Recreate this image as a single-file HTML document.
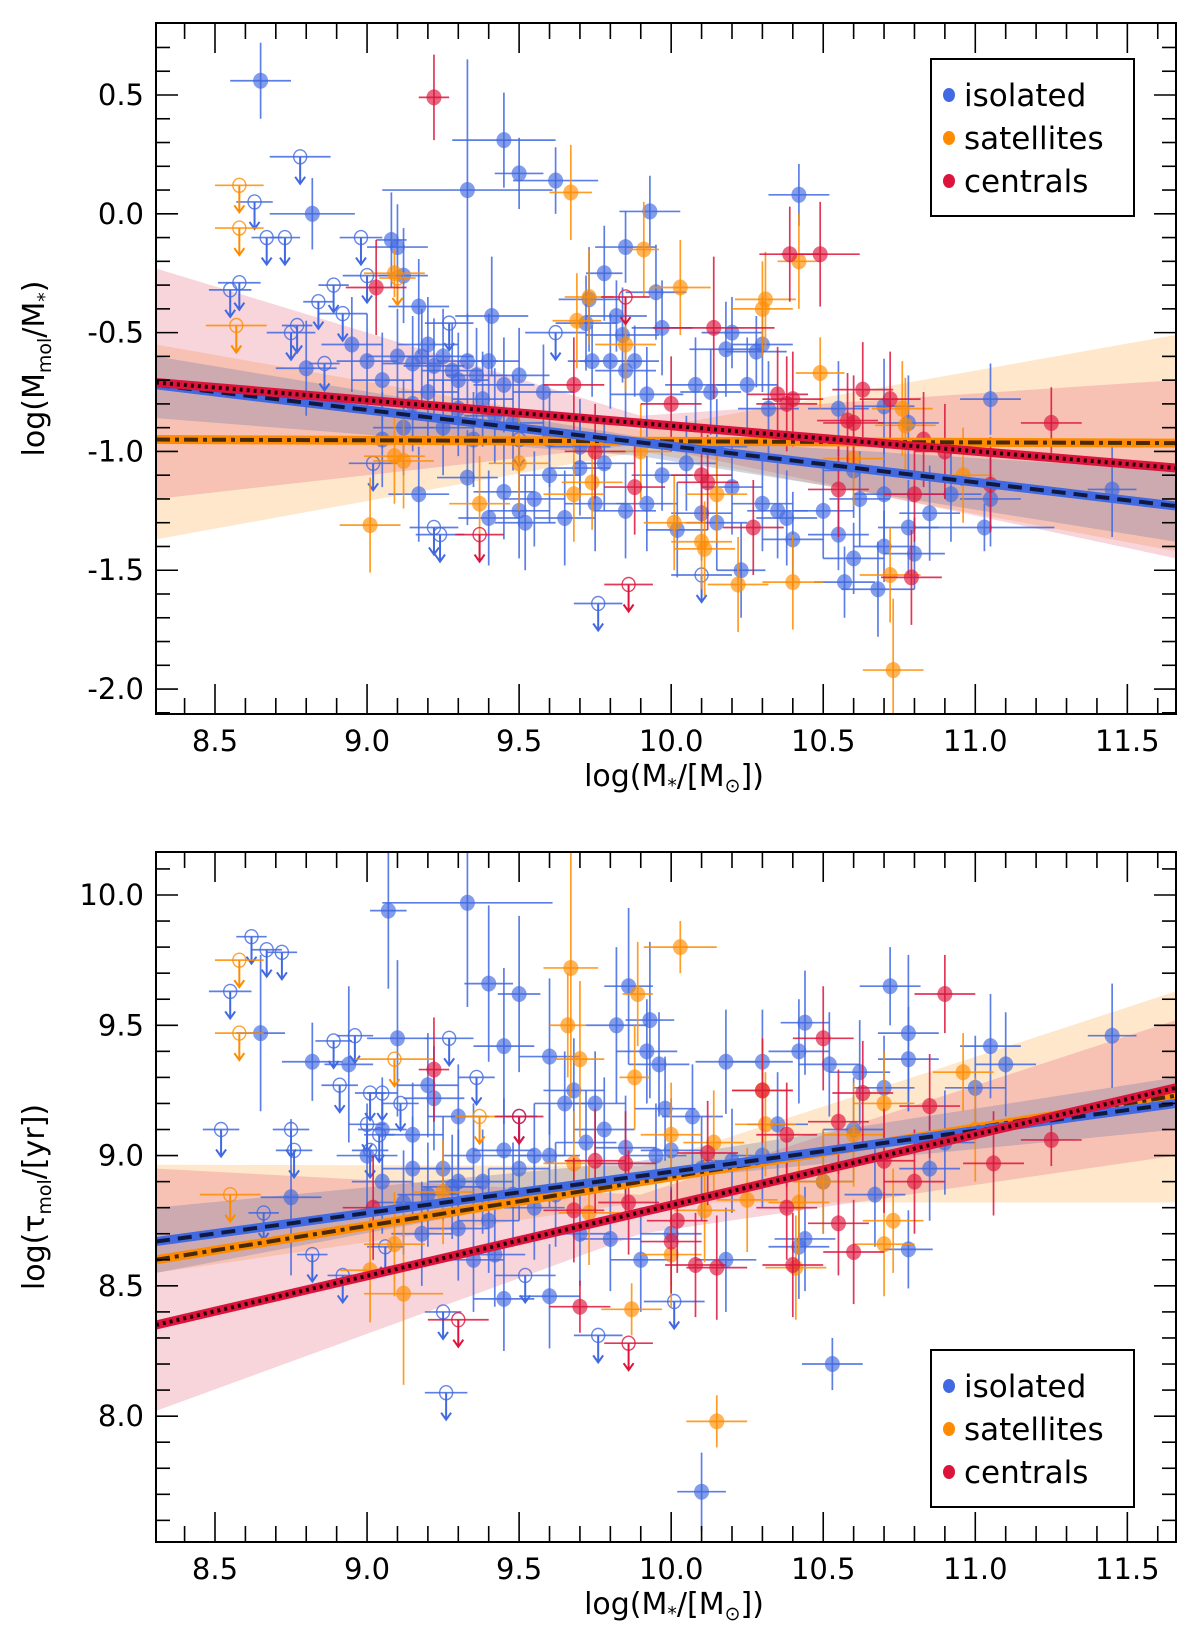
<!DOCTYPE html>
<html>
<head>
<meta charset="utf-8">
<style>
  html, body { margin: 0; padding: 0; background: #fff; }
  svg { display: block; font-family: "DejaVu Sans", "Liberation Sans", sans-serif; }
</style>
</head>
<body>
<svg id="fig" width="1200" height="1631" viewBox="0 0 1200 1631" xmlns="http://www.w3.org/2000/svg">
  <g id="top-panel"></g>
  <g id="bottom-panel"></g>
</svg>
<script>
// ---------- shared ----------
const xTicks = [8.5, 9.0, 9.5, 10.0, 10.5, 11.0, 11.5];
const xTickLabels = ["8.5", "9.0", "9.5", "10.0", "10.5", "11.0", "11.5"];
const xDomain = [8.306, 11.66];
const fitX = [8.306, 11.66];
const bandX = [8.306, 9.9, 11.66];

// ---------- top panel data: [x, y, xerr, yerr] ----------
const topYDomain = [-2.105, 0.803];
const topYTicks = [0.5, 0.0, -0.5, -1.0, -1.5, -2.0];
const topYTickLabels = ["0.5", "0.0", "-0.5", "-1.0", "-1.5", "-2.0"];

const topIso = [[8.65,0.56,0.1,0.16],[8.82,0.0,0.14,0.15],[9.33,0.1,0.28,0.55],[9.45,0.31,0.17,0.2],[9.5,0.17,0.08,0.15],[9.62,0.14,0.14,0.14],
[9.93,0.01,0.1,0.15],[10.42,0.08,0.1,0.13],[9.08,-0.11,0.05,0.2],[9.1,-0.14,0.1,0.18],[9.12,-0.26,0.08,0.2],[9.17,-0.39,0.1,0.2],[9.41,-0.43,0.12,0.25],
[9.78,-0.25,0.06,0.2],[9.85,-0.14,0.1,0.15],[9.95,-0.33,0.1,0.2],[9.73,-0.36,0.1,0.22],[9.72,-0.46,0.1,0.2],[9.82,-0.43,0.1,0.15],[9.84,-0.51,0.12,0.2],
[9.97,-0.48,0.1,0.2],[10.18,-0.57,0.12,0.2],[10.28,-0.58,0.1,0.15],[10.2,-0.5,0.1,0.15],[10.3,-0.55,0.1,0.2],[9.74,-0.62,0.08,0.15],[9.8,-0.62,0.1,0.2],
[9.88,-0.62,0.08,0.15],[9.85,-0.66,0.1,0.2],[10.08,-0.72,0.1,0.2],[10.25,-0.72,0.1,0.2],[10.13,-0.75,0.1,0.18],[9.92,-0.76,0.12,0.2],[10.32,-0.82,0.1,0.2],
[10.55,-0.82,0.1,0.2],[10.7,-0.81,0.1,0.2],[10.78,-0.88,0.1,0.2],[11.05,-0.78,0.1,0.15],[11.45,-1.16,0.08,0.2],[11.05,-1.2,0.1,0.2],[10.92,-1.18,0.1,0.2],
[10.85,-1.26,0.1,0.2],[11.03,-1.32,0.23,0.1],[10.78,-1.32,0.1,0.2],[10.8,-1.43,0.1,0.15],[10.7,-1.4,0.1,0.15],[10.68,-1.58,0.12,0.2],[10.6,-1.45,0.1,0.15],
[10.57,-1.55,0.1,0.15],[10.55,-1.35,0.1,0.15],[10.38,-1.28,0.1,0.2],[10.4,-1.37,0.1,0.2],[10.23,-1.5,0.08,0.2],[10.35,-1.25,0.1,0.2],[10.3,-1.22,0.1,0.2],
[10.15,-1.3,0.1,0.2],[10.1,-1.26,0.1,0.2],[10.02,-1.33,0.1,0.2],[9.92,-1.22,0.1,0.2],[9.97,-1.1,0.1,0.15],[9.85,-1.25,0.1,0.2],[9.75,-1.22,0.1,0.2],
[9.65,-1.28,0.1,0.2],[9.55,-1.2,0.1,0.2],[9.5,-1.25,0.1,0.2],[9.52,-1.3,0.1,0.2],[9.4,-1.28,0.1,0.2],[9.45,-1.17,0.1,0.2],[9.33,-1.11,0.1,0.2],
[9.17,-1.18,0.1,0.2],[9.6,-1.1,0.1,0.2],[9.7,-1.07,0.1,0.2],[9.78,-1.05,0.1,0.2],[10.05,-1.05,0.1,0.2],[10.15,-0.98,0.1,0.2],[10.2,-1.15,0.1,0.2],
[10.62,-1.2,0.1,0.2],[10.7,-1.18,0.1,0.2],[10.6,-1.08,0.1,0.2],[10.5,-1.25,0.1,0.2],[9.58,-0.75,0.1,0.2],[9.5,-0.68,0.1,0.2],[9.4,-0.62,0.1,0.2],
[9.3,-0.7,0.1,0.2],[9.25,-0.6,0.1,0.2],[9.2,-0.55,0.1,0.2],[9.15,-0.63,0.1,0.2],[9.1,-0.6,0.1,0.2],[9.05,-0.7,0.1,0.2],[8.95,-0.55,0.1,0.2],
[8.8,-0.65,0.1,0.2],[9.38,-0.78,0.1,0.2],[9.42,-0.85,0.1,0.2],[9.25,-0.9,0.1,0.2],[9.12,-0.9,0.1,0.2],[9.05,-0.95,0.1,0.2],
[9.22,-0.64,0.1,0.2],[9.28,-0.66,0.1,0.2],[9.33,-0.62,0.1,0.2],[9.18,-0.6,0.1,0.2],[9.36,-0.68,0.1,0.2],[9.45,-0.72,0.1,0.2],[9.2,-0.75,0.1,0.2],
[9.3,-0.82,0.1,0.2],[9.48,-0.88,0.1,0.2],[9.15,-0.8,0.1,0.2],[9.0,-0.62,0.1,0.2],[9.35,-0.95,0.1,0.2],[9.6,-0.95,0.1,0.2],[9.7,-0.98,0.1,0.2]];
const topIsoUL = [[8.78,0.24,0.1],[8.63,0.05,0.06],[8.67,-0.1,0.05],[8.73,-0.1,0.05],[8.98,-0.1,0.07],[8.55,-0.32,0.07],[8.58,-0.29,0.07],[8.84,-0.37,0.05],
[8.89,-0.3,0.05],[9.0,-0.26,0.08],[8.92,-0.42,0.08],[8.75,-0.5,0.08],[8.86,-0.63,0.05],[8.77,-0.47,0.05],[9.27,-0.46,0.08],[9.62,-0.5,0.1],[9.22,-1.32,0.08],
[9.24,-1.35,0.08],[9.76,-1.64,0.08],[10.1,-1.52,0.1],[9.02,-1.05,0.08],[9.5,-0.95,0.1]];
const topSat = [[9.67,0.09,0.07,0.2],[9.09,-0.25,0.1,0.1],[9.91,-0.15,0.05,0.2],[10.03,-0.31,0.1,0.2],[10.31,-0.36,0.1,0.2],[10.3,-0.4,0.1,0.2],
[10.42,-0.2,0.07,0.2],[9.73,-0.35,0.08,0.2],[9.69,-0.45,0.08,0.2],[9.85,-0.55,0.1,0.2],[10.49,-0.67,0.08,0.15],[10.76,-0.82,0.1,0.2],[10.77,-0.89,0.1,0.2],
[9.01,-1.31,0.1,0.2],[9.09,-1.02,0.1,0.2],[9.12,-1.04,0.1,0.2],[9.37,-1.22,0.1,0.2],[9.68,-1.18,0.1,0.2],[9.74,-1.13,0.1,0.2],[10.01,-1.3,0.1,0.2],
[10.1,-1.38,0.1,0.2],[10.11,-1.41,0.1,0.2],[10.15,-1.18,0.1,0.2],[10.22,-1.56,0.1,0.2],[10.4,-1.55,0.1,0.2],[10.72,-1.52,0.1,0.2],[10.73,-1.92,0.1,0.3],
[10.6,-1.03,0.1,0.2],[10.96,-1.1,0.1,0.2],[9.9,-1.0,0.1,0.2],[9.5,-1.05,0.1,0.2]];
const topSatUL = [[8.58,0.12,0.08],[8.58,-0.06,0.08],[8.57,-0.47,0.1],[9.1,-0.27,0.06]];
const topCen = [[9.22,0.49,0.05,0.18],[9.03,-0.31,0.1,0.2],[10.39,-0.17,0.1,0.2],[10.49,-0.17,0.13,0.22],[10.14,-0.48,0.2,0.3],[9.68,-0.72,0.1,0.2],
[10.0,-0.8,0.1,0.2],[10.35,-0.76,0.1,0.2],[10.38,-0.8,0.1,0.2],[10.4,-0.78,0.1,0.2],[10.63,-0.74,0.1,0.2],[10.72,-0.78,0.1,0.2],[10.58,-0.87,0.1,0.2],
[10.6,-0.88,0.1,0.2],[11.25,-0.88,0.1,0.15],[10.83,-0.95,0.1,0.2],[10.9,-1.0,0.1,0.2],[11.05,-1.14,0.1,0.2],[10.8,-1.18,0.1,0.2],[10.55,-1.16,0.1,0.2],
[10.27,-1.32,0.1,0.2],[10.1,-1.1,0.1,0.2],[10.12,-1.13,0.1,0.2],[9.88,-1.15,0.1,0.2],[10.79,-1.53,0.1,0.2],[9.75,-1.0,0.1,0.2]];
const topCenUL = [[9.85,-0.35,0.08],[9.37,-1.35,0.08],[9.86,-1.56,0.08]];
const topFitIso = [-0.72, -1.23];
const topFitSat = [-0.95, -0.965];
const topFitCen = [-0.71, -1.07];
const topBandIsoHi = [-0.6, -0.94, -1.08];
const topBandIsoLo = [-0.86, -1.02, -1.38];
const topBandSatHi = [-0.55, -0.91, -0.51];
const topBandSatLo = [-1.37, -1.0, -1.42];
const topBandCenHi = [-0.23, -0.85, -0.7];
const topBandCenLo = [-1.2, -0.97, -1.45];

// ---------- bottom panel data ----------
const botYDomain = [7.517, 10.165];
const botYTicks = [10.0, 9.5, 9.0, 8.5, 8.0];
const botYTickLabels = ["10.0", "9.5", "9.0", "8.5", "8.0"];
const botIso = [[8.65,9.47,0.08,0.3],[8.82,9.36,0.1,0.15],[8.94,9.35,0.08,0.3],[9.1,9.45,0.1,0.3],[9.05,9.1,0.08,0.2],[9.2,9.27,0.1,0.2],[9.22,9.22,0.1,0.2],
[9.3,9.15,0.1,0.2],[9.45,9.42,0.1,0.3],[9.6,9.38,0.1,0.3],[9.65,9.2,0.1,0.2],[9.68,9.25,0.1,0.2],[9.75,9.2,0.1,0.2],[9.82,9.5,0.1,0.3],[9.86,9.65,0.08,0.3],
[9.93,9.52,0.08,0.3],[9.92,9.4,0.1,0.2],[9.96,9.35,0.1,0.2],[9.98,9.18,0.1,0.2],[10.07,9.15,0.1,0.2],[10.18,9.36,0.1,0.2],[10.3,9.36,0.1,0.2],
[10.42,9.4,0.1,0.2],[10.44,9.51,0.08,0.2],[10.52,9.35,0.1,0.2],[10.62,9.32,0.1,0.2],[10.72,9.65,0.1,0.15],[10.78,9.47,0.1,0.3],[10.78,9.37,0.1,0.2],
[10.7,9.26,0.1,0.2],[11.05,9.42,0.1,0.2],[11.1,9.35,0.1,0.2],[11.45,9.46,0.08,0.2],[11.0,9.26,0.1,0.2],[10.53,8.2,0.1,0.1],[10.1,7.71,0.08,0.15],
[9.95,9.0,0.1,0.2],[9.85,9.03,0.1,0.2],[10.0,9.02,0.1,0.2],[10.1,8.95,0.1,0.2],[10.2,8.98,0.1,0.2],[10.3,9.0,0.1,0.2],[10.35,9.12,0.1,0.2],[9.9,8.6,0.1,0.2],
[10.0,8.7,0.1,0.2],[10.18,8.6,0.1,0.2],[10.42,8.65,0.1,0.2],[10.44,8.68,0.1,0.2],[10.67,8.85,0.1,0.2],[10.78,8.64,0.08,0.15],[10.5,8.9,0.1,0.2],
[9.6,8.46,0.1,0.2],[9.45,8.45,0.1,0.2],[9.35,8.6,0.1,0.2],[9.4,8.75,0.1,0.2],[9.55,8.8,0.1,0.2],[9.7,8.7,0.1,0.2],[9.8,8.68,0.1,0.2],[9.3,8.9,0.1,0.2],
[9.2,8.85,0.1,0.2],[9.15,8.95,0.1,0.2],[9.05,8.9,0.1,0.2],[9.25,8.95,0.1,0.2],[9.35,9.0,0.1,0.2],[9.5,8.95,0.1,0.2],[9.6,9.0,0.1,0.2],[9.72,9.05,0.1,0.2],
[9.78,9.1,0.1,0.2],[9.55,9.0,0.1,0.2],[9.62,8.85,0.1,0.2],[8.75,8.84,0.1,0.3],[9.0,9.0,0.1,0.2],[9.45,9.02,0.1,0.2],[10.6,9.1,0.1,0.2],[10.9,9.05,0.1,0.2],
[10.85,8.95,0.1,0.2],[9.15,9.08,0.1,0.2],[9.07,9.94,0.06,0.3],[9.33,9.97,0.28,0.4],[9.4,9.66,0.08,0.3],[9.5,9.62,0.07,0.3],
[9.28,8.88,0.1,0.2],[9.38,8.9,0.1,0.2],[9.12,8.82,0.1,0.2],[9.42,8.62,0.1,0.2],[9.18,8.7,0.1,0.2],[9.3,8.72,0.1,0.2],[9.48,8.85,0.1,0.2]];
const botIsoUL = [[8.55,9.63,0.07],[8.62,9.84,0.05],[8.67,9.79,0.05],[8.72,9.78,0.05],[8.52,9.1,0.06],[8.75,9.1,0.06],[8.76,9.02,0.06],[8.89,9.44,0.06],
[8.96,9.46,0.06],[8.91,9.27,0.06],[9.01,9.24,0.05],[9.05,9.24,0.05],[9.0,9.12,0.06],[9.01,9.02,0.06],[9.04,9.08,0.05],[9.11,9.2,0.06],[9.27,9.45,0.08],
[9.36,9.3,0.06],[9.5,9.15,0.06],[9.25,8.4,0.06],[9.26,8.09,0.07],[9.76,8.31,0.08],[10.01,8.44,0.1],[9.52,8.54,0.1],[8.66,8.78,0.05],[8.82,8.62,0.05],
[8.92,8.54,0.05],[9.06,8.65,0.06]];
const botSat = [[9.67,9.72,0.09,0.5],[9.66,9.5,0.06,0.2],[9.7,9.37,0.08,0.3],[9.89,9.62,0.05,0.2],[10.03,9.8,0.12,0.1],[9.88,9.3,0.05,0.2],[10.0,9.08,0.1,0.2],
[10.14,9.05,0.1,0.2],[10.31,9.12,0.1,0.2],[10.3,9.25,0.1,0.2],[10.7,9.2,0.1,0.2],[10.96,9.32,0.1,0.15],[11.0,9.1,0.1,0.2],[10.6,9.08,0.1,0.2],
[10.42,8.82,0.1,0.2],[10.41,8.57,0.1,0.2],[10.73,8.75,0.1,0.2],[10.7,8.66,0.1,0.2],[9.68,8.97,0.1,0.2],[9.73,8.78,0.1,0.2],[9.87,8.41,0.1,0.1],
[10.11,8.79,0.1,0.2],[10.0,8.62,0.1,0.2],[9.01,8.56,0.1,0.2],[9.12,8.47,0.13,0.35],[9.09,8.66,0.1,0.2],[9.25,8.86,0.1,0.2],[10.15,7.98,0.1,0.1],
[10.25,8.83,0.1,0.2],[10.5,8.9,0.1,0.2]];
const botSatUL = [[8.58,9.75,0.08],[8.58,9.47,0.08],[8.55,8.85,0.1],[9.09,9.37,0.13],[9.37,9.15,0.08]];
const botCen = [[9.22,9.33,0.05,0.2],[10.9,9.62,0.1,0.15],[10.5,9.45,0.1,0.2],[10.63,9.24,0.1,0.2],[10.3,9.25,0.1,0.2],[10.55,9.13,0.1,0.2],
[10.85,9.19,0.1,0.2],[10.38,9.08,0.1,0.2],[11.25,9.06,0.1,0.1],[11.06,8.97,0.1,0.2],[10.8,8.9,0.1,0.2],[10.6,8.63,0.1,0.2],[10.55,8.74,0.1,0.2],
[10.38,8.8,0.1,0.2],[10.4,8.58,0.1,0.2],[10.08,8.58,0.1,0.2],[10.15,8.57,0.1,0.2],[10.0,8.67,0.1,0.2],[10.02,8.75,0.1,0.2],[9.86,8.82,0.1,0.2],
[9.75,8.98,0.1,0.2],[9.85,8.97,0.1,0.2],[9.68,8.79,0.1,0.2],[9.7,8.42,0.1,0.1],[10.12,9.01,0.1,0.2],[10.7,8.98,0.1,0.2],[9.02,8.8,0.1,0.2]];
const botCenUL = [[9.3,8.37,0.1],[9.86,8.28,0.08],[9.5,9.15,0.08]];
const botFitIso = [8.67, 9.20];
const botFitSat = [8.60, 9.23];
const botFitCen = [8.35, 9.26];
const botBandIsoHi = [8.8, 8.98, 9.3];
const botBandIsoLo = [8.55, 8.9, 9.1];
const botBandSatHi = [8.965, 8.96, 9.63];
const botBandSatLo = [8.55, 8.82, 8.82];
const botBandCenHi = [8.95, 8.85, 9.52];
const botBandCenLo = [8.02, 8.7, 9.0];

const COLORS = { iso: "#4169e1", sat: "#ff8c00", cen: "#dc143c" };
const NS = "http://www.w3.org/2000/svg";

function mk(parent, tag, attrs, text) {
  const el = document.createElementNS(NS, tag);
  for (const k in attrs) el.setAttribute(k, attrs[k]);
  if (text !== undefined) el.textContent = text;
  parent.appendChild(el);
  return el;
}

function drawPanel(g, box, yDomain, yTicks, yTickLabels, data, yLabelKind, legendY) {
  const sx = v => box.l + (v - xDomain[0]) / (xDomain[1] - xDomain[0]) * (box.r - box.l);
  const sy = v => box.b - (v - yDomain[0]) / (yDomain[1] - yDomain[0]) * (box.b - box.t);

  const clipId = "clip-" + g.id;
  const defs = mk(g, "defs", {});
  const cp = mk(defs, "clipPath", { id: clipId });
  mk(cp, "rect", { x: box.l, y: box.t, width: box.r - box.l, height: box.b - box.t });
  const plot = mk(g, "g", { "clip-path": "url(#" + clipId + ")" });
  
  

  const bandDefs = [["sat", data.bandSatHi, data.bandSatLo, "#fdc98a", 0.45],
                    ["cen", data.bandCenHi, data.bandCenLo, "#e5546f", 0.25],
                    ["iso", data.bandIsoHi, data.bandIsoLo, "#6a74a8", 0.3]];
  bandDefs.forEach(([k, hi, lo, col, op]) => {
    let d = "M" + bandX.map((x, i) => sx(x) + "," + sy(hi[i])).join(" L");
    d += " L" + bandX.slice().reverse().map((x, i) => sx(x) + "," + sy(lo[lo.length - 1 - i])).join(" L") + " Z";
    const p = mk(plot, "path", { d: d, fill: col, "fill-opacity": op, stroke: "none" });
    
    
  });

  const groups = [["iso", data.iso, data.isoUL], ["sat", data.sat, data.satUL], ["cen", data.cen, data.cenUL]];
  groups.forEach(([k, pts, uls]) => {
    const col = COLORS[k];
    const gg = mk(plot, "g", {});
    
    
    pts.forEach(p => {
      const cx = sx(p[0]), cy = sy(p[1]);
      const pg = mk(gg, "g", {});
      
      
      mk(pg, "line", { x1: sx(p[0] - p[2]), x2: sx(p[0] + p[2]), y1: cy, y2: cy, stroke: col, "stroke-width": 1.7, "stroke-opacity": 0.85 });
      mk(pg, "line", { x1: cx, x2: cx, y1: sy(p[1] - p[3]), y2: sy(p[1] + p[3]), stroke: col, "stroke-width": 1.7, "stroke-opacity": 0.85 });
      mk(pg, "ellipse", { cx: cx, cy: cy, rx: 7.5, ry: 8, fill: col, "fill-opacity": 0.65 });
    });
    uls.forEach(p => {
      const cx = sx(p[0]), cy = sy(p[1]);
      const pg = mk(gg, "g", {});
      
      
      mk(pg, "line", { x1: sx(p[0] - p[2]), x2: sx(p[0] + p[2]), y1: cy, y2: cy, stroke: col, "stroke-width": 1.7, "stroke-opacity": 0.85 });
      mk(pg, "line", { x1: cx, x2: cx, y1: cy, y2: cy + 26, stroke: col, "stroke-width": 2 });
      mk(pg, "path", { d: `M${cx - 5},${cy + 20} L${cx},${cy + 27} L${cx + 5},${cy + 20}`, stroke: col, "stroke-width": 2, fill: "none" });
      mk(pg, "ellipse", { cx: cx, cy: cy, rx: 6.5, ry: 7, fill: "none", stroke: col, "stroke-width": 1.4, "stroke-opacity": 0.8 });
    });
  });

  const fits = [["iso", data.fitIso, COLORS.iso, "#101a40", "14,8"],
                ["sat", data.fitSat, COLORS.sat, "#4a2a05", "14,5,4,5"],
                ["cen", data.fitCen, COLORS.cen, "#2a0008", "3,4"]];
  const order = [fits[1], fits[0], fits[2]];
  order.forEach(([k, v, col, dark, dash]) => {
    const fg = mk(plot, "g", {});
    
    
    mk(fg, "line", { x1: sx(fitX[0]), y1: sy(v[0]), x2: sx(fitX[1]), y2: sy(v[1]), stroke: col, "stroke-width": 9 });
    mk(fg, "line", { x1: sx(fitX[0]), y1: sy(v[0]), x2: sx(fitX[1]), y2: sy(v[1]), stroke: dark, "stroke-width": 4, "stroke-dasharray": dash });
  });

  const axes = mk(g, "g", { stroke: "#000", "stroke-width": 1.6 });
  
  
  mk(axes, "rect", { x: box.l, y: box.t, width: box.r - box.l, height: box.b - box.t, fill: "none", "stroke-width": 2 });
  for (let i = 83; i <= 116; i++) {
    const v = i / 10; const X = sx(v);
    if (X < box.l + 1 || X > box.r - 1) continue;
    const major = i % 5 === 0;
    const L = major ? 30 : 16;
    mk(axes, "line", { x1: X, x2: X, y1: box.b, y2: box.b - L });
    mk(axes, "line", { x1: X, x2: X, y1: box.t, y2: box.t + L });
  }
  for (let i = -30; i <= 110; i++) {
    const v = i / 10; const Y = sy(v);
    if (Y < box.t + 1 || Y > box.b - 1) continue;
    const major = Math.abs(i) % 5 === 0;
    const L = major ? 22 : 14;
    mk(axes, "line", { x1: box.l, x2: box.l + L, y1: Y, y2: Y });
    mk(axes, "line", { x1: box.r, x2: box.r - L, y1: Y, y2: Y });
  }

  xTicks.forEach((v, i) => {
    const t = mk(g, "text", { x: sx(v), y: box.b + 37, "text-anchor": "middle", "font-size": 29, fill: "#000" }, xTickLabels[i]);
    
    
  });
  yTicks.forEach((v, i) => {
    const t = mk(g, "text", { x: box.l - 12, y: sy(v) + 10, "text-anchor": "end", "font-size": 29, fill: "#000" }, yTickLabels[i]);
    
    
  });

  const xt = mk(g, "text", { x: (box.l + box.r) / 2 + 8, y: box.b + 72, "text-anchor": "middle", "font-size": 30, fill: "#000" });
  
  
  xt.innerHTML = 'log(M<tspan font-size="19" dy="6">*</tspan><tspan dy="-6">/[M</tspan><tspan font-size="19" dy="6">⊙</tspan><tspan dy="-6">])</tspan>';

  const yt = mk(g, "text", { transform: `translate(${box.l - 112},${(box.t + box.b) / 2}) rotate(-90)`, "text-anchor": "middle", "font-size": 30, fill: "#000" });
  
  
  if (yLabelKind === "frac") {
    yt.innerHTML = 'log(M<tspan font-size="19" dy="7">mol</tspan><tspan dy="-7">/M</tspan><tspan font-size="19" dy="7">*</tspan><tspan dy="-7">)</tspan>';
  } else {
    yt.innerHTML = 'log(τ<tspan font-size="19" dy="7">mol</tspan><tspan dy="-7">/[yr])</tspan>';
  }

  const lg = mk(g, "g", {});
  
  
  mk(lg, "rect", { x: 931, y: legendY, width: 203, height: 157, fill: "#fff", stroke: "#000", "stroke-width": 2 });
  [["isolated", COLORS.iso], ["satellites", COLORS.sat], ["centrals", COLORS.cen]].forEach(([lab, col], i) => {
    const e = mk(lg, "g", {});
    
    
    const cy = legendY + 36 + i * 43;
    mk(e, "ellipse", { cx: 949, cy: cy, rx: 6, ry: 7, fill: col });
    mk(e, "text", { x: 964, y: cy + 11, "font-size": 31, fill: "#000" }, lab);
  });
}

drawPanel(document.getElementById("top-panel"), { l: 156, r: 1176, t: 23, b: 714 }, topYDomain, topYTicks, topYTickLabels, {
  iso: topIso, isoUL: topIsoUL, sat: topSat, satUL: topSatUL, cen: topCen, cenUL: topCenUL,
  fitIso: topFitIso, fitSat: topFitSat, fitCen: topFitCen,
  bandIsoHi: topBandIsoHi, bandIsoLo: topBandIsoLo, bandSatHi: topBandSatHi, bandSatLo: topBandSatLo,
  bandCenHi: topBandCenHi, bandCenLo: topBandCenLo
}, "frac", 59);

drawPanel(document.getElementById("bottom-panel"), { l: 156, r: 1176, t: 852, b: 1542 }, botYDomain, botYTicks, botYTickLabels, {
  iso: botIso, isoUL: botIsoUL, sat: botSat, satUL: botSatUL, cen: botCen, cenUL: botCenUL,
  fitIso: botFitIso, fitSat: botFitSat, fitCen: botFitCen,
  bandIsoHi: botBandIsoHi, bandIsoLo: botBandIsoLo, bandSatHi: botBandSatHi, bandSatLo: botBandSatLo,
  bandCenHi: botBandCenHi, bandCenLo: botBandCenLo
}, "tau", 1350);
</script>
</body>
</html>
